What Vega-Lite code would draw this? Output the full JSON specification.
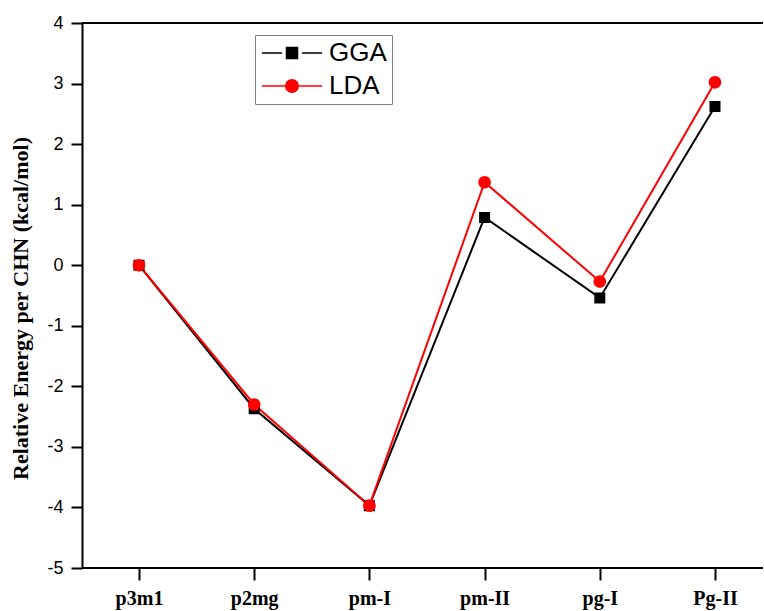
{
  "$schema": "https://vega.github.io/schema/vega-lite/v6.json",
  "autosize": {"type": "none"},
  "padding": {"left": 82, "top": 23, "right": 1, "bottom": 43},
  "width": 681,
  "height": 545,
  "background": "white",
  "config": {"view": {"stroke": null}},
  "data": {"values": [
    {"phase": "p3m1", "method": "GGA", "energy": 0.0},
    {"phase": "p2mg", "method": "GGA", "energy": -2.37},
    {"phase": "pm-I", "method": "GGA", "energy": -3.97},
    {"phase": "pm-II", "method": "GGA", "energy": 0.79},
    {"phase": "pg-I", "method": "GGA", "energy": -0.54},
    {"phase": "Pg-II", "method": "GGA", "energy": 2.62},
    {"phase": "p3m1", "method": "LDA", "energy": 0.0},
    {"phase": "p2mg", "method": "LDA", "energy": -2.30},
    {"phase": "pm-I", "method": "LDA", "energy": -3.97},
    {"phase": "pm-II", "method": "LDA", "energy": 1.37},
    {"phase": "pg-I", "method": "LDA", "energy": -0.27},
    {"phase": "Pg-II", "method": "LDA", "energy": 3.02}
  ]},
  "encoding": {
    "x": {
      "field": "phase", "type": "ordinal",
      "sort": ["p3m1", "p2mg", "pm-I", "pm-II", "pg-I", "Pg-II"],
      "scale": {"type": "point", "range": [57, 633], "padding": 0},
      "axis": {
        "title": null, "domain": false, "labelAngle": 0,
        "labelFont": "Liberation Serif", "labelFontWeight": "bold", "labelFontSize": 20,
        "labelColor": "black", "labelPadding": 8,
        "tickColor": "black", "tickWidth": 2, "tickSize": 12, "grid": false
      }
    },
    "y": {
      "field": "energy", "type": "quantitative",
      "scale": {"domain": [-5, 4], "nice": false, "zero": false},
      "axis": {
        "title": "Relative Energy per CHN (kcal/mol)",
        "titleFont": "Liberation Serif", "titleFontWeight": "bold", "titleFontSize": 22,
        "titleColor": "black", "titleX": -55, "titleY": 285, "titleBaseline": "alphabetic",
        "titleAlign": "center", "titleAngle": -90,
        "values": [-5, -4, -3, -2, -1, 0, 1, 2, 3, 4],
        "labelExpr": "datum.value < 0 ? '-' + abs(datum.value) : '' + datum.value",
        "labelFont": "Liberation Sans", "labelFontSize": 18, "labelColor": "black", "labelPadding": 8,
        "domainColor": "black", "domainWidth": 2,
        "tickColor": "black", "tickWidth": 2, "tickSize": 11, "grid": false
      }
    },
    "color": {
      "field": "method", "type": "nominal",
      "scale": {"domain": ["GGA", "LDA"], "range": ["#000000", "#ff0000"]},
      "legend": {
        "title": null, "orient": "none", "legendX": 173, "legendY": 12,
        "strokeColor": "#808080", "padding": 5, "fillColor": "white",
        "labelFont": "Liberation Sans", "labelFontSize": 26, "labelColor": "black",
        "labelOffset": 43, "rowPadding": 7, "symbolSize": 400,
        "encode": {
          "symbols": {
            "update": {
              "x": {"value": 32},
              "shape": {"scale": "shape", "field": "value"},
              "fill": {"scale": "color", "field": "value"},
              "stroke": {"scale": "color", "field": "value"},
              "strokeWidth": {"value": 1.5},
              "opacity": {"value": 1},
              "fillOpacity": {"value": 1},
              "strokeOpacity": {"value": 1}
            }
          }
        }
      }
    }
  },
  "layer": [
    {
      "mark": {"type": "rule", "color": "black", "strokeWidth": 2},
      "encoding": {"y": {"datum": 4}, "x": null, "color": null}
    },
    {
      "mark": {"type": "rule", "color": "black", "strokeWidth": 2},
      "encoding": {"y": {"datum": -5}, "x": null, "color": null}
    },
    {
      "mark": {"type": "line", "strokeWidth": 2}
    },
    {
      "mark": {"type": "point", "filled": true, "opacity": 1, "strokeWidth": 0, "size": 400},
      "encoding": {
        "shape": {
          "field": "method", "type": "nominal",
          "scale": {"domain": ["GGA", "LDA"], "range": [
            "M-3,0H-1M1,0H3M-0.55,-0.55H0.55V0.55H-0.55Z",
            "M-3,0H-0.65M0.65,0H3M0.63,0A0.63,0.63,0,1,1,-0.63,0A0.63,0.63,0,1,1,0.63,0Z"
          ]},
          "legend": null
        }
      }
    }
  ]
}
